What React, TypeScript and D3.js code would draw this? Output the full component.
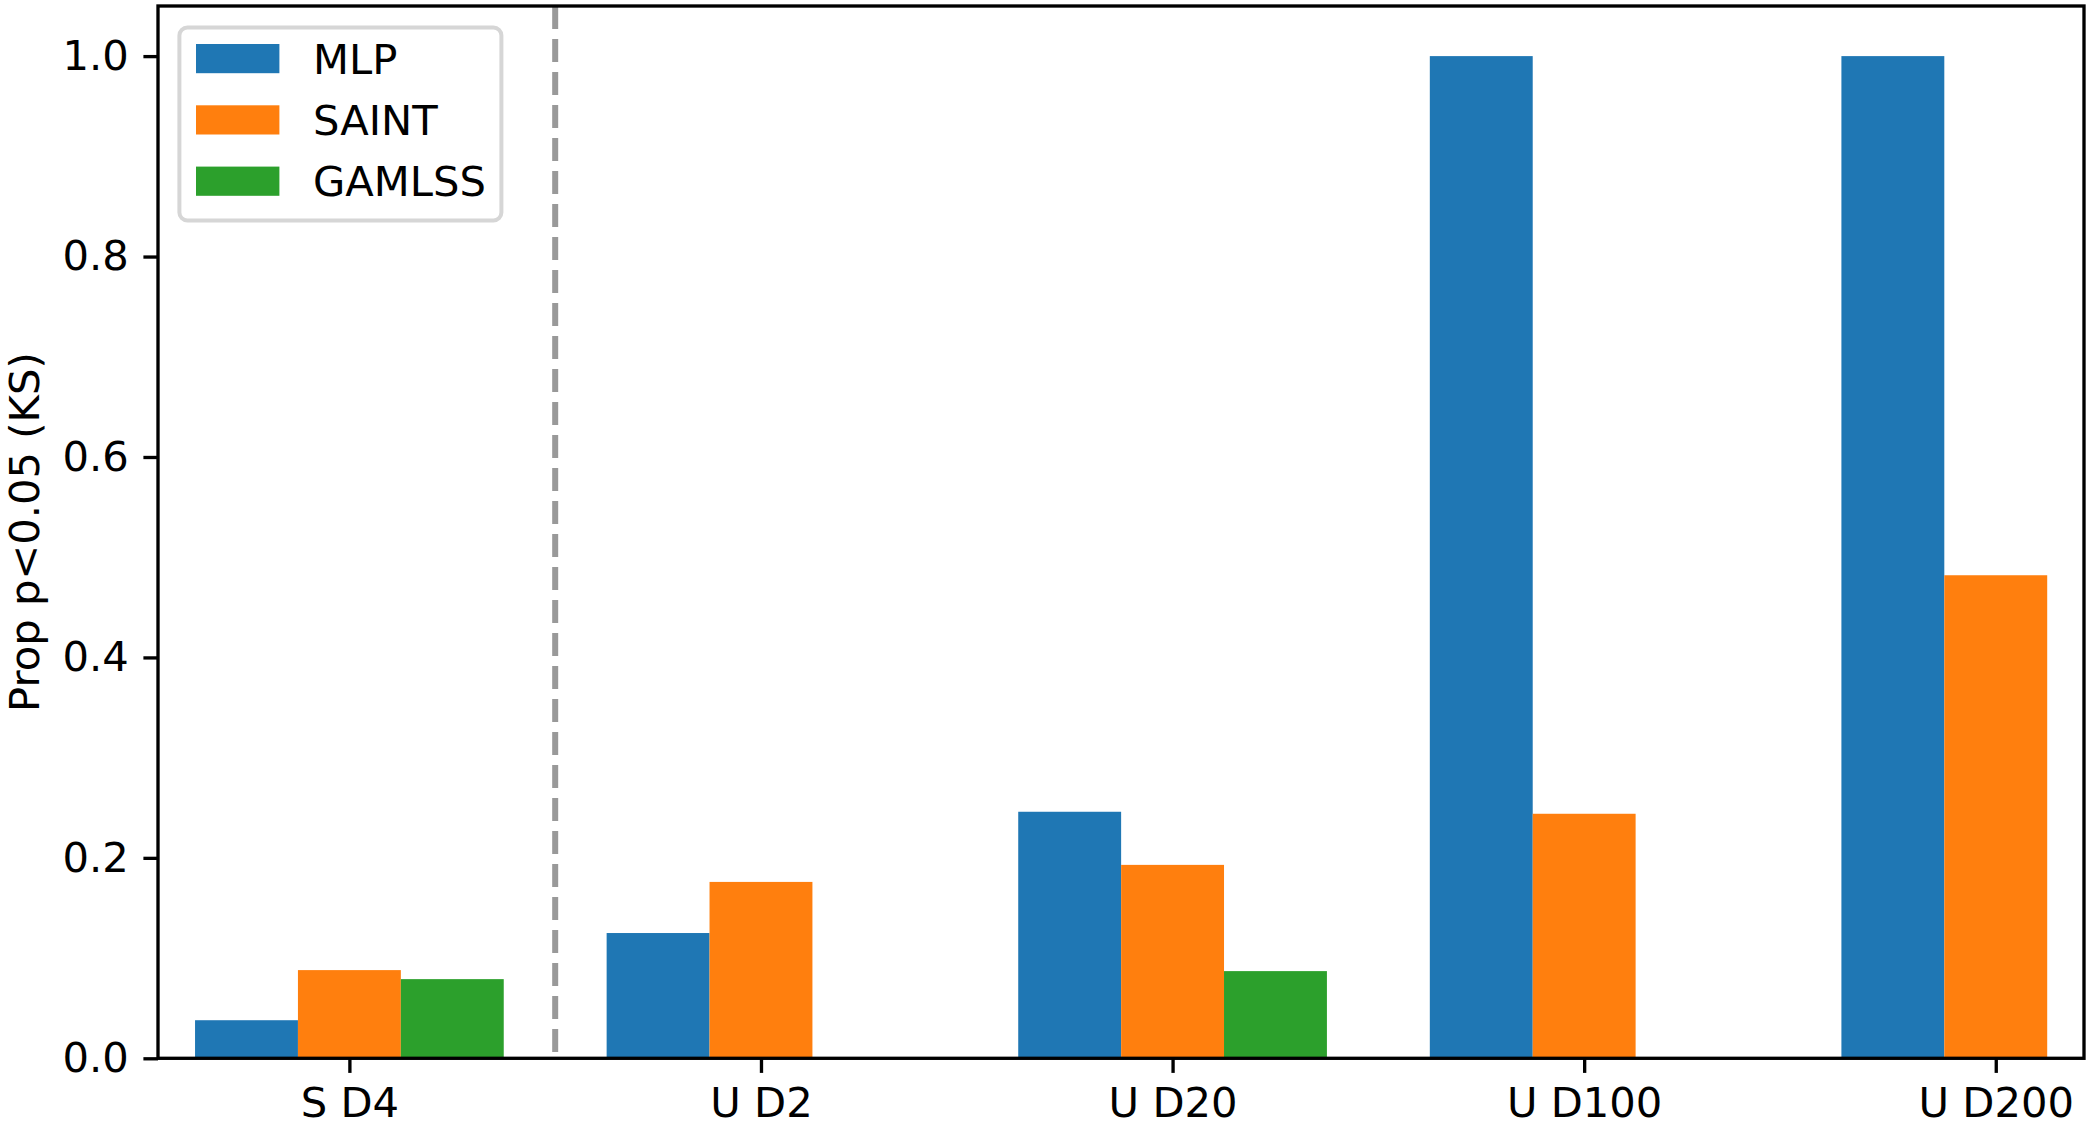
import React, { useEffect, useRef } from "react";
import * as d3 from "d3";

const categories = ["S D4", "U D2", "U D20", "U D100", "U D200"];
const seriesNames = ["MLP", "SAINT", "GAMLSS"];
const mlpValues = [0.038, 0.125, 0.246, 1.0, 1.0];
const saintValues = [0.088, 0.176, 0.193, 0.244, 0.482];
const gamlssValues = [0.079, null, 0.087, null, null];
const yTicks = [0, 0.2, 0.4, 0.6, 0.8, 1.0];
const colors = ["#1f77b4", "#ff7f0e", "#2ca02c"];

const App = () => {
  const svgRef = useRef<SVGSVGElement>(null);

  useEffect(() => {
    const W = 2089;
    const H = 1133;
    const left = 158;
    const right = 2084;
    const top = 6;
    const bottom = 1058.3;
    const fs = 41.7;
    const lw = 3.33;
    const font = "DejaVu Sans, sans-serif";

    const svg = d3.select(svgRef.current).attr("width", W).attr("height", H);
    svg.selectAll("*").remove();
    svg.append("rect").attr("width", W).attr("height", H).style("fill", "white");

    const x = d3.scaleLinear().domain([-0.465, 4.2144]).range([left, right]);
    const y = d3.scaleLinear().domain([0, 1.05]).range([bottom, top]);
    const barW = 0.25;

    const series = [mlpValues, saintValues, gamlssValues];
    series.forEach((vals, si) => {
      const offset = (si - 1) * barW;
      svg
        .append("g")
        .selectAll("rect")
        .data(vals.map((v, i) => ({ v, i })).filter((d) => d.v != null))
        .join("rect")
        .attr("x", (d) => x(d.i + offset - barW / 2))
        .attr("width", x(barW) - x(0))
        .attr("y", (d) => y(d.v as number))
        .attr("height", (d) => y(0) - y(d.v as number))
        .style("fill", colors[si]);
    });

    // separator between S and U
    svg
      .append("line")
      .attr("x1", x(0.5))
      .attr("x2", x(0.5))
      .attr("y1", top)
      .attr("y2", bottom)
      .style("stroke", "#999999")
      .style("stroke-width", 6)
      .style("stroke-dasharray", "23,10");

    // y axis
    const yAxis = d3
      .axisLeft(y)
      .tickValues(yTicks)
      .tickFormat(d3.format(".1f"))
      .tickSize(14.6)
      .tickPadding(14.6);
    const gy = svg.append("g").attr("transform", `translate(${left},0)`).call(yAxis);
    gy.select(".domain").remove();
    gy.selectAll("line").style("stroke", "black").style("stroke-width", lw);
    gy.selectAll("text")
      .style("font-family", font)
      .style("font-size", `${fs}px`)
      .style("fill", "black");

    // x axis
    const xAxis = d3
      .axisBottom(x)
      .tickValues(d3.range(categories.length))
      .tickFormat((d) => categories[d as number])
      .tickSize(14.6)
      .tickPadding(14.6);
    const gx = svg.append("g").attr("transform", `translate(0,${bottom})`).call(xAxis);
    gx.select(".domain").remove();
    gx.selectAll("line").style("stroke", "black").style("stroke-width", lw);
    gx.selectAll("text")
      .style("font-family", font)
      .style("font-size", `${fs}px`)
      .style("fill", "black");

    // spines
    svg
      .append("rect")
      .attr("x", left)
      .attr("y", top)
      .attr("width", right - left)
      .attr("height", bottom - top)
      .style("fill", "none")
      .style("stroke", "black")
      .style("stroke-width", lw);

    // y label
    svg
      .append("text")
      .attr("transform", `translate(24,${(top + bottom) / 2}) rotate(-90)`)
      .attr("dy", "0.35em")
      .style("text-anchor", "middle")
      .style("font-family", font)
      .style("font-size", `${fs}px`)
      .text("Prop p<0.05 (KS)");

    // legend
    const lg = svg.append("g");
    lg.append("rect")
      .attr("x", 179.4)
      .attr("y", 27.5)
      .attr("width", 322)
      .attr("height", 193)
      .attr("rx", 8)
      .style("fill", "white")
      .style("fill-opacity", 0.8)
      .style("stroke", "#d6d6d6")
      .style("stroke-width", 4);
    seriesNames.forEach((name, i) => {
      const cy = 58.6 + i * 61.3;
      lg.append("rect")
        .attr("x", 196)
        .attr("y", cy - 14.6)
        .attr("width", 83.4)
        .attr("height", 29.2)
        .style("fill", colors[i]);
      lg.append("text")
        .attr("x", 313)
        .attr("y", cy)
        .attr("dy", "0.36em")
        .style("font-family", font)
        .style("font-size", `${fs}px`)
        .text(name);
    });
  }, []);

  return (
    <svg
      ref={svgRef}
      style={{ position: "absolute", left: 0, top: 0, display: "block" }}
    ></svg>
  );
};

export default App;
